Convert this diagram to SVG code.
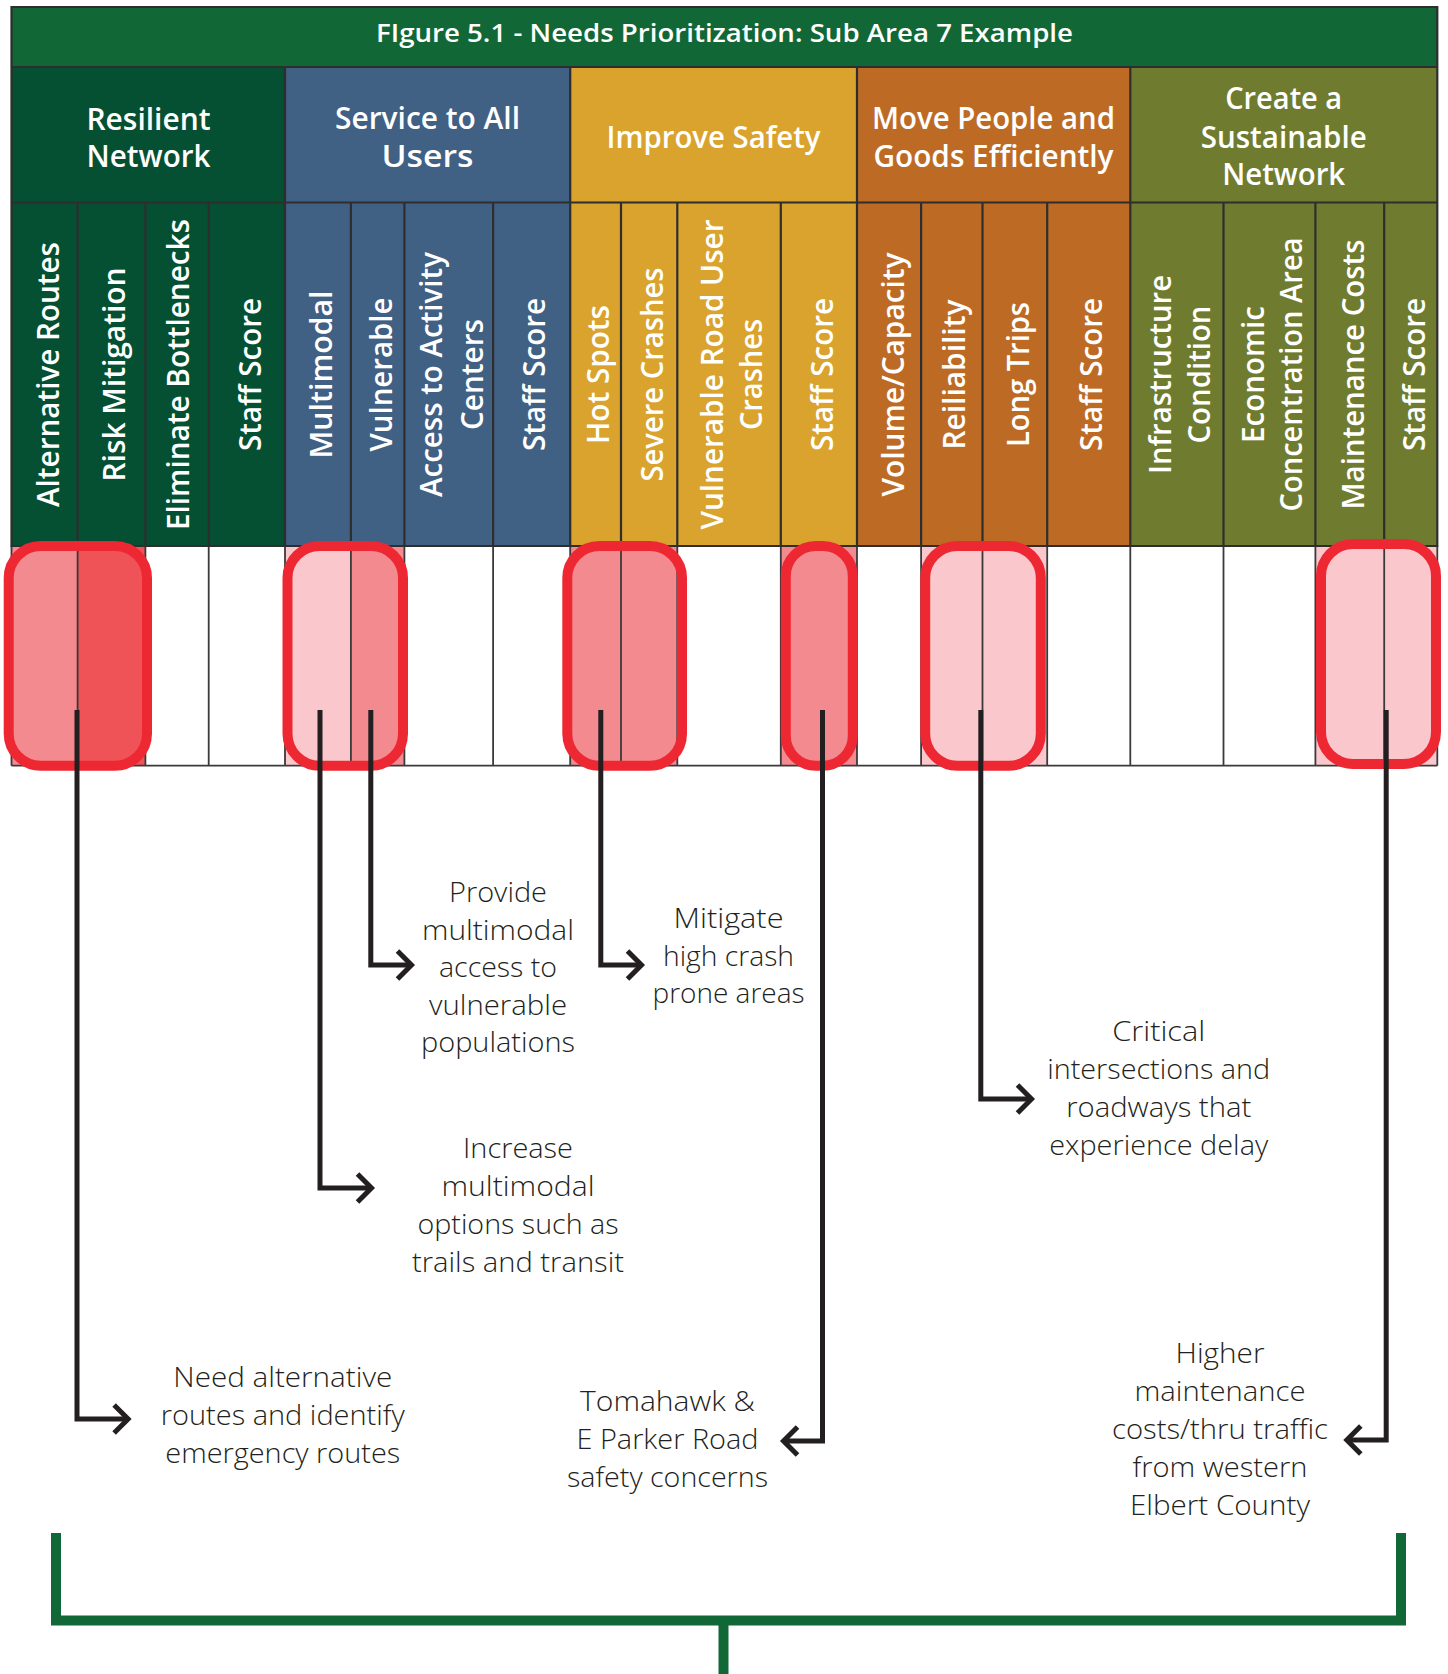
<svg xmlns="http://www.w3.org/2000/svg" width="1448" height="1674" viewBox="0 0 1448 1674">
<style>
.hd{font-family:"Open Sans","Liberation Sans",sans-serif;font-weight:600;font-size:30px;fill:#fff;text-anchor:middle}
.ttl{font-family:"Open Sans","Liberation Sans",sans-serif;font-weight:600;font-size:26px;fill:#fff;text-anchor:middle}
.vl{font-family:"Open Sans","Liberation Sans",sans-serif;font-weight:600;font-size:30px;fill:#fff;text-anchor:middle}
.ds{font-family:"Open Sans","Liberation Sans",sans-serif;font-weight:300;font-size:27px;fill:#231F20;text-anchor:middle}
.gl{stroke:#2E2E2E;stroke-width:2.2;fill:none}
.dl{stroke:#3A3A3A;stroke-width:1.8;fill:none}
.pk1{fill:#F28A8F}.pk2{fill:#FAC8CC}.pk3{fill:#EF5257}
.hl{fill:none;stroke:#EE2833;stroke-width:10}
.cn{fill:none;stroke:#231F20;stroke-width:5;stroke-linejoin:miter;marker-end:url(#chev)}
.br{fill:none;stroke:#116836;stroke-width:10;stroke-linejoin:miter}
</style>
<defs>
<marker id="chev" viewBox="-20 -20 28 40" markerWidth="28" markerHeight="40" refX="0" refY="0" orient="auto" markerUnits="userSpaceOnUse">
<path d="M-14,-14 L0,0 L-14,14" fill="none" stroke="#231F20" stroke-width="5" stroke-linejoin="miter"/>
</marker>
</defs>
<rect x="0" y="0" width="1448" height="1674" fill="#fff"/>

<g id="title">
<rect x="11.5" y="7" width="1425.8" height="60" fill="#116836"/>
<text class="ttl" x="724.5" y="41.7" textLength="697" lengthAdjust="spacingAndGlyphs">FIgure 5.1 - Needs Prioritization: Sub Area 7 Example</text>
</g>

<g id="grp-resilient">
<rect x="11.5" y="67" width="273.5" height="479" fill="#054F33"/>
<text class="hd" x="148.5" y="130" textLength="124" lengthAdjust="spacingAndGlyphs">Resilient</text>
<text class="hd" x="148.5" y="166.7" textLength="124" lengthAdjust="spacingAndGlyphs">Network</text>
</g>
<g id="grp-service">
<rect x="285" y="67" width="285.2" height="479" fill="#406084"/>
<text class="hd" x="427.5" y="129.3" textLength="185" lengthAdjust="spacingAndGlyphs">Service to All</text>
<text class="hd" x="427.5" y="166.7" textLength="92" lengthAdjust="spacingAndGlyphs">Users</text>
</g>
<g id="grp-safety">
<rect x="570.2" y="67" width="286.8" height="479" fill="#D9A32E"/>
<text class="hd" x="713.5" y="148.3" textLength="214" lengthAdjust="spacingAndGlyphs">Improve Safety</text>
</g>
<g id="grp-move">
<rect x="857" y="67" width="273.3" height="479" fill="#BD6B24"/>
<text class="hd" x="993.5" y="129.3" textLength="243" lengthAdjust="spacingAndGlyphs">Move People and</text>
<text class="hd" x="993.5" y="166.7" textLength="240" lengthAdjust="spacingAndGlyphs">Goods Efficiently</text>
</g>
<g id="grp-sustainable">
<rect x="1130.3" y="67" width="307" height="479" fill="#6F7C2F"/>
<text class="hd" x="1283.7" y="109.3" textLength="117" lengthAdjust="spacingAndGlyphs">Create a</text>
<text class="hd" x="1283.7" y="147.7" textLength="166" lengthAdjust="spacingAndGlyphs">Sustainable</text>
<text class="hd" x="1283.7" y="185" textLength="123" lengthAdjust="spacingAndGlyphs">Network</text>
</g>

<g id="data-row">
<rect x="11.5" y="546" width="1425.8" height="219.7" fill="#fff"/>
<rect class="pk1" x="11.5" y="546" width="66.1" height="219.7"/>
<rect class="pk3" x="77.6" y="546" width="67.8" height="219.7"/>
<rect class="pk2" x="285" y="546" width="65.9" height="219.7"/>
<rect class="pk1" x="350.9" y="546" width="53.5" height="219.7"/>
<rect class="pk1" x="570.2" y="546" width="50.8" height="219.7"/>
<rect class="pk1" x="621" y="546" width="56.3" height="219.7"/>
<rect class="pk1" x="780.8" y="546" width="76.2" height="219.7"/>
<rect class="pk2" x="921.1" y="546" width="61.4" height="219.7"/>
<rect class="pk2" x="982.5" y="546" width="64.7" height="219.7"/>
<rect class="pk2" x="1315.4" y="546" width="68.8" height="219.7"/>
<rect class="pk2" x="1384.2" y="546" width="53.1" height="219.7"/>
</g>

<g id="grid">
<path class="dl" d="M77.6,546V765.7M145.4,546V765.7M208.7,546V765.7M285,546V765.7M350.9,546V765.7M404.4,546V765.7M493.1,546V765.7M570.2,546V765.7M621,546V765.7M677.3,546V765.7M780.8,546V765.7M857,546V765.7M921.1,546V765.7M982.5,546V765.7M1047.2,546V765.7M1130.3,546V765.7M1223.5,546V765.7M1315.4,546V765.7M1384.2,546V765.7M11.5,765.7H1437.3M11.5,546V765.7M1437.3,546V765.7"/>
<path class="gl" d="M11.5,7H1437.3V546H11.5Z M11.5,67H1437.3 M11.5,202.5H1437.3 M285,67V546 M570.2,67V546 M857,67V546 M1130.3,67V546 M77.6,202.5V546 M145.4,202.5V546 M208.7,202.5V546 M350.9,202.5V546 M404.4,202.5V546 M493.1,202.5V546 M621,202.5V546 M677.3,202.5V546 M780.8,202.5V546 M921.1,202.5V546 M982.5,202.5V546 M1047.2,202.5V546 M1223.5,202.5V546 M1315.4,202.5V546 M1384.2,202.5V546"/>
</g>

<g id="col-alternative-routes"><text class="vl" transform="translate(59,374.5) rotate(-90)" textLength="265" lengthAdjust="spacingAndGlyphs">Alternative Routes</text></g>
<g id="col-risk-mitigation"><text class="vl" transform="translate(124.7,374.5) rotate(-90)" textLength="214" lengthAdjust="spacingAndGlyphs">Risk Mitigation</text></g>
<g id="col-eliminate-bottlenecks"><text class="vl" transform="translate(189.3,374.5) rotate(-90)" textLength="311" lengthAdjust="spacingAndGlyphs">Eliminate Bottlenecks</text></g>
<g id="col-staff-score-1"><text class="vl" transform="translate(260.8,374.5) rotate(-90)" textLength="153" lengthAdjust="spacingAndGlyphs">Staff Score</text></g>
<g id="col-multimodal"><text class="vl" transform="translate(331.5,374.5) rotate(-90)" textLength="168" lengthAdjust="spacingAndGlyphs">Multimodal</text></g>
<g id="col-vulnerable"><text class="vl" transform="translate(392.4,374.5) rotate(-90)" textLength="154" lengthAdjust="spacingAndGlyphs">Vulnerable</text></g>
<g id="col-access"><text class="vl" transform="translate(442.3,374.5) rotate(-90)" textLength="245" lengthAdjust="spacingAndGlyphs">Access to Activity</text><text class="vl" transform="translate(482.5,374.5) rotate(-90)" textLength="111" lengthAdjust="spacingAndGlyphs">Centers</text></g>
<g id="col-staff-score-2"><text class="vl" transform="translate(544.8,374.5) rotate(-90)" textLength="153" lengthAdjust="spacingAndGlyphs">Staff Score</text></g>
<g id="col-hot-spots"><text class="vl" transform="translate(609.4,374.5) rotate(-90)" textLength="139" lengthAdjust="spacingAndGlyphs">Hot Spots</text></g>
<g id="col-severe-crashes"><text class="vl" transform="translate(663.4,374.5) rotate(-90)" textLength="214" lengthAdjust="spacingAndGlyphs">Severe Crashes</text></g>
<g id="col-vru-crashes"><text class="vl" transform="translate(722.5,374.5) rotate(-90)" textLength="310" lengthAdjust="spacingAndGlyphs">Vulnerable Road User</text><text class="vl" transform="translate(762,374.5) rotate(-90)" textLength="111" lengthAdjust="spacingAndGlyphs">Crashes</text></g>
<g id="col-staff-score-3"><text class="vl" transform="translate(833.4,374.5) rotate(-90)" textLength="153" lengthAdjust="spacingAndGlyphs">Staff Score</text></g>
<g id="col-volume-capacity"><text class="vl" transform="translate(904,374.5) rotate(-90)" textLength="244" lengthAdjust="spacingAndGlyphs">Volume/Capacity</text></g>
<g id="col-reliability"><text class="vl" transform="translate(965,374.5) rotate(-90)" textLength="150" lengthAdjust="spacingAndGlyphs">Reiliability</text></g>
<g id="col-long-trips"><text class="vl" transform="translate(1028.7,374.5) rotate(-90)" textLength="145" lengthAdjust="spacingAndGlyphs">Long Trips</text></g>
<g id="col-staff-score-4"><text class="vl" transform="translate(1101.7,374.5) rotate(-90)" textLength="153" lengthAdjust="spacingAndGlyphs">Staff Score</text></g>
<g id="col-infrastructure"><text class="vl" transform="translate(1171,374.5) rotate(-90)" textLength="199" lengthAdjust="spacingAndGlyphs">Infrastructure</text><text class="vl" transform="translate(1209.7,374.5) rotate(-90)" textLength="138" lengthAdjust="spacingAndGlyphs">Condition</text></g>
<g id="col-economic"><text class="vl" transform="translate(1264.2,374.5) rotate(-90)" textLength="137" lengthAdjust="spacingAndGlyphs">Economic</text><text class="vl" transform="translate(1302,374.5) rotate(-90)" textLength="274" lengthAdjust="spacingAndGlyphs">Concentration Area</text></g>
<g id="col-maintenance-costs"><text class="vl" transform="translate(1364.4,374.5) rotate(-90)" textLength="270" lengthAdjust="spacingAndGlyphs">Maintenance Costs</text></g>
<g id="col-staff-score-5"><text class="vl" transform="translate(1424.8,374.5) rotate(-90)" textLength="153" lengthAdjust="spacingAndGlyphs">Staff Score</text></g>

<g id="highlight-1"><rect class="hl" x="8.7" y="546" width="138.3" height="219.7" rx="32"/></g>
<g id="highlight-2"><rect class="hl" x="287.5" y="546" width="115.5" height="219.7" rx="32"/></g>
<g id="highlight-3"><rect class="hl" x="567.3" y="546" width="114.7" height="219.7" rx="32"/></g>
<g id="highlight-4"><rect class="hl" x="785.8" y="546" width="67" height="219.7" rx="30"/></g>
<g id="highlight-5"><rect class="hl" x="925.2" y="546" width="115.6" height="219.7" rx="32"/></g>
<g id="highlight-6"><rect class="hl" x="1321" y="544" width="115" height="220" rx="32"/></g>

<g id="connectors">
<path class="cn" d="M77,710V1419H128.1"/>
<path class="cn" d="M320,710V1188H371.5"/>
<path class="cn" d="M370.8,710V965H411.5"/>
<path class="cn" d="M600.8,710V965H641.5"/>
<path class="cn" d="M822.5,710V1441H783.5"/>
<path class="cn" d="M980.8,710V1099H1031.5"/>
<path class="cn" d="M1386.2,710V1440H1346.8"/>
</g>

<g id="note-vulnerable">
<text class="ds" x="498" y="902" textLength="98" lengthAdjust="spacingAndGlyphs">Provide</text>
<text class="ds" x="498" y="939.5" textLength="152" lengthAdjust="spacingAndGlyphs">multimodal</text>
<text class="ds" x="498" y="977" textLength="118" lengthAdjust="spacingAndGlyphs">access to</text>
<text class="ds" x="498" y="1014.5" textLength="138" lengthAdjust="spacingAndGlyphs">vulnerable</text>
<text class="ds" x="498" y="1052" textLength="154" lengthAdjust="spacingAndGlyphs">populations</text>
</g>
<g id="note-hotspots">
<text class="ds" x="728.5" y="928" textLength="110" lengthAdjust="spacingAndGlyphs">Mitigate</text>
<text class="ds" x="728.5" y="966" textLength="131" lengthAdjust="spacingAndGlyphs">high crash</text>
<text class="ds" x="728.5" y="1003" textLength="152" lengthAdjust="spacingAndGlyphs">prone areas</text>
</g>
<g id="note-multimodal">
<text class="ds" x="518" y="1157.5" textLength="110" lengthAdjust="spacingAndGlyphs">Increase</text>
<text class="ds" x="518" y="1195.5" textLength="153" lengthAdjust="spacingAndGlyphs">multimodal</text>
<text class="ds" x="518" y="1233.5" textLength="201" lengthAdjust="spacingAndGlyphs">options such as</text>
<text class="ds" x="518" y="1271.5" textLength="212" lengthAdjust="spacingAndGlyphs">trails and transit</text>
</g>
<g id="note-reliability">
<text class="ds" x="1158.7" y="1041" textLength="93" lengthAdjust="spacingAndGlyphs">Critical</text>
<text class="ds" x="1158.7" y="1079" textLength="223" lengthAdjust="spacingAndGlyphs">intersections and</text>
<text class="ds" x="1158.7" y="1117" textLength="185" lengthAdjust="spacingAndGlyphs">roadways that</text>
<text class="ds" x="1158.7" y="1155" textLength="219" lengthAdjust="spacingAndGlyphs">experience delay</text>
</g>
<g id="note-alternative">
<text class="ds" x="282.8" y="1387" textLength="219" lengthAdjust="spacingAndGlyphs">Need alternative</text>
<text class="ds" x="282.8" y="1424.5" textLength="244" lengthAdjust="spacingAndGlyphs">routes and identify</text>
<text class="ds" x="282.8" y="1463" textLength="235" lengthAdjust="spacingAndGlyphs">emergency routes</text>
</g>
<g id="note-tomahawk">
<text class="ds" x="667.5" y="1411" textLength="175" lengthAdjust="spacingAndGlyphs">Tomahawk &amp;</text>
<text class="ds" x="667.5" y="1448.5" textLength="182" lengthAdjust="spacingAndGlyphs">E Parker Road</text>
<text class="ds" x="667.5" y="1487" textLength="201" lengthAdjust="spacingAndGlyphs">safety concerns</text>
</g>
<g id="note-maintenance">
<text class="ds" x="1220" y="1363" textLength="89" lengthAdjust="spacingAndGlyphs">Higher</text>
<text class="ds" x="1220" y="1401" textLength="171" lengthAdjust="spacingAndGlyphs">maintenance</text>
<text class="ds" x="1220" y="1438.5" textLength="216" lengthAdjust="spacingAndGlyphs">costs/thru traffic</text>
<text class="ds" x="1220" y="1477" textLength="175" lengthAdjust="spacingAndGlyphs">from western</text>
<text class="ds" x="1220" y="1515" textLength="180" lengthAdjust="spacingAndGlyphs">Elbert County</text>
</g>

<g id="bracket">
<path class="br" d="M56,1533V1620.5H1401V1533"/>
<path class="br" d="M723.5,1620V1674"/>
</g>
</svg>
